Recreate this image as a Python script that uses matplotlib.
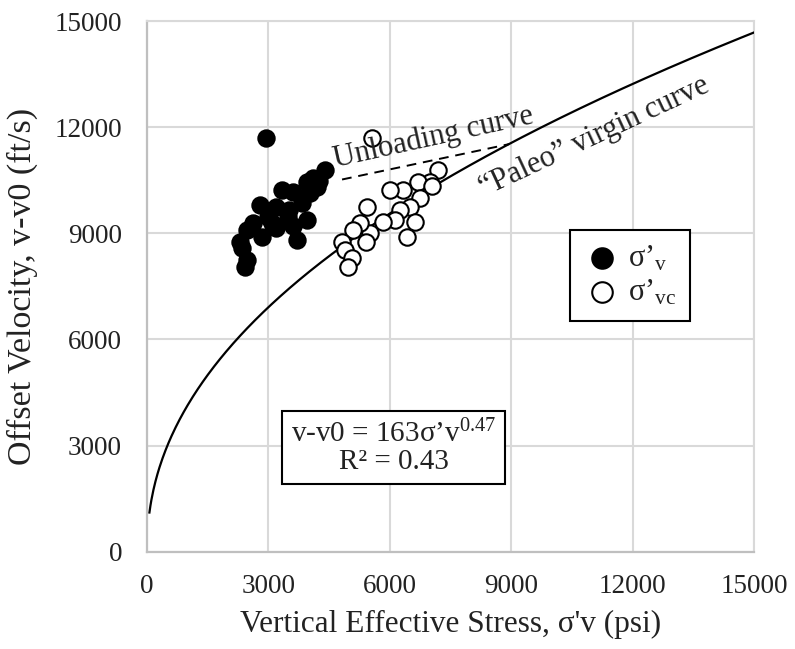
import numpy as np
import matplotlib
matplotlib.use("Agg")
import matplotlib.pyplot as plt

plt.rcParams['font.family'] = ['Liberation Serif', 'DejaVu Serif']
plt.rcParams['mathtext.fontset'] = 'custom'
plt.rcParams['mathtext.rm'] = 'Liberation Serif'
plt.rcParams['mathtext.it'] = 'Liberation Serif:italic'

# ---- data ----
sv_x = [2950, 4400, 4100, 3950, 3330, 3610, 2790, 4030, 4190, 3200, 3820, 3000,
        3490, 3950, 2620, 3200, 2460, 3700, 2830, 2300, 2340, 2460, 2420, 3520,
        4250, 3100, 3600]
sv_y = [11700, 10790, 10550, 10460, 10220, 10180, 9800, 10130, 10320, 9750, 9850, 9470,
        9470, 9380, 9290, 9140, 9090, 8810, 8900, 8760, 8570, 8250, 8050, 9650,
        10480, 9300, 9200]

svc_x = [5550, 7190, 6990, 6700, 6330, 6010, 6750, 6500, 6250, 5430, 6620, 6420,
         6130, 5830, 5510, 5260, 5090, 4810, 4890, 5060, 4970, 7050, 5420]
svc_y = [11700, 10780, 10460, 10460, 10220, 10220, 9990, 9750, 9660, 9750, 9330, 8900,
         9380, 9330, 9000, 9290, 9090, 8760, 8530, 8290, 8060, 10350, 8750]

fit_coef = 163
fit_exp = 0.468
fit_x_range = [60, 15000]

unload_x = [4820, 8950]
unload_y = [10520, 11520]

xticks = [0, 3000, 6000, 9000, 12000, 15000]
yticks = [0, 3000, 6000, 9000, 12000, 15000]

# ---- figure ----
fig = plt.figure(figsize=(7.95, 6.49), dpi=100)
W, H = 795, 649
ax = fig.add_axes([147 / W, 1 - 551.7 / H, (754 - 147) / W, (551.7 - 21) / H])

ax.set_xlim(0, 15000)
ax.set_ylim(0, 15000)
ax.set_xticks(xticks)
ax.set_yticks(yticks)
ax.grid(True, color='#d9d9d9', linewidth=1.5, zorder=0)
ax.set_axisbelow(True)
ax.tick_params(length=0, labelsize=19.5, colors='#222222')
ax.tick_params(axis='y', pad=18)
ax.tick_params(axis='x', pad=16)
for s in ['left', 'bottom']:
    ax.spines[s].set_color('#bfbfbf')
    ax.spines[s].set_linewidth(1.6)
for s in ['top', 'right']:
    ax.spines[s].set_color('#d9d9d9')
    ax.spines[s].set_linewidth(1.5)

# trend curve
cx = np.linspace(fit_x_range[0], fit_x_range[1], 600)
cy = fit_coef * cx ** fit_exp
ax.plot(cx, cy, color='black', linewidth=1.6, zorder=3)

# unloading dashed line
ax.plot(unload_x, unload_y, color='black', linewidth=1.4, linestyle=(0, (5, 3.5)), zorder=3)

# scatter points
h1 = ax.scatter(sv_x, sv_y, s=145, facecolor='black', edgecolor='black', linewidth=1.2, zorder=4,
                label="σ’$_\\mathrm{v}$")
h2 = ax.scatter(svc_x, svc_y, s=140, facecolor='white', edgecolor='black', linewidth=1.5, zorder=5,
                label="σ’$_\\mathrm{vc}$")

# annotations
ax.text(4650, 10873, "Unloading curve", rotation=12.5, rotation_mode='anchor',
        ha='left', va='baseline', fontsize=22, color='#222222', zorder=6)
ax.text(8327, 10025, "“Paleo” virgin curve", rotation=25, rotation_mode='anchor',
        ha='left', va='baseline', fontsize=22, color='#222222', zorder=6)

# equation box
ax.text(6091, 2945, "v-v0 = 163σ’v$^{\\mathrm{0.47}}$\nR² = 0.43", ha='center', va='center',
        fontsize=21, color='#222222', linespacing=1.05, multialignment='center', zorder=6,
        bbox=dict(boxstyle='square,pad=0.3', facecolor='white', edgecolor='black', linewidth=1.5))

leg = ax.legend(handles=[h1, h2], loc='upper left', bbox_to_anchor=(0.697, 0.606),
                fontsize=22, frameon=True, fancybox=False, framealpha=1, edgecolor='black',
                borderpad=0.45, handletextpad=0.25, labelspacing=0.15, handlelength=1.2,
                borderaxespad=0, markerscale=1.25)
leg.get_frame().set_linewidth(1.5)
for t in leg.get_texts():
    t.set_color('#222222')

ax.set_xlabel("Vertical Effective Stress, σ'v (psi)", fontsize=22.5, color='#222222', labelpad=8)
ax.set_ylabel("Offset Velocity, v-v0 (ft/s)", fontsize=24.5, color='#222222', labelpad=12)

fig.savefig("out.png", dpi=100)
